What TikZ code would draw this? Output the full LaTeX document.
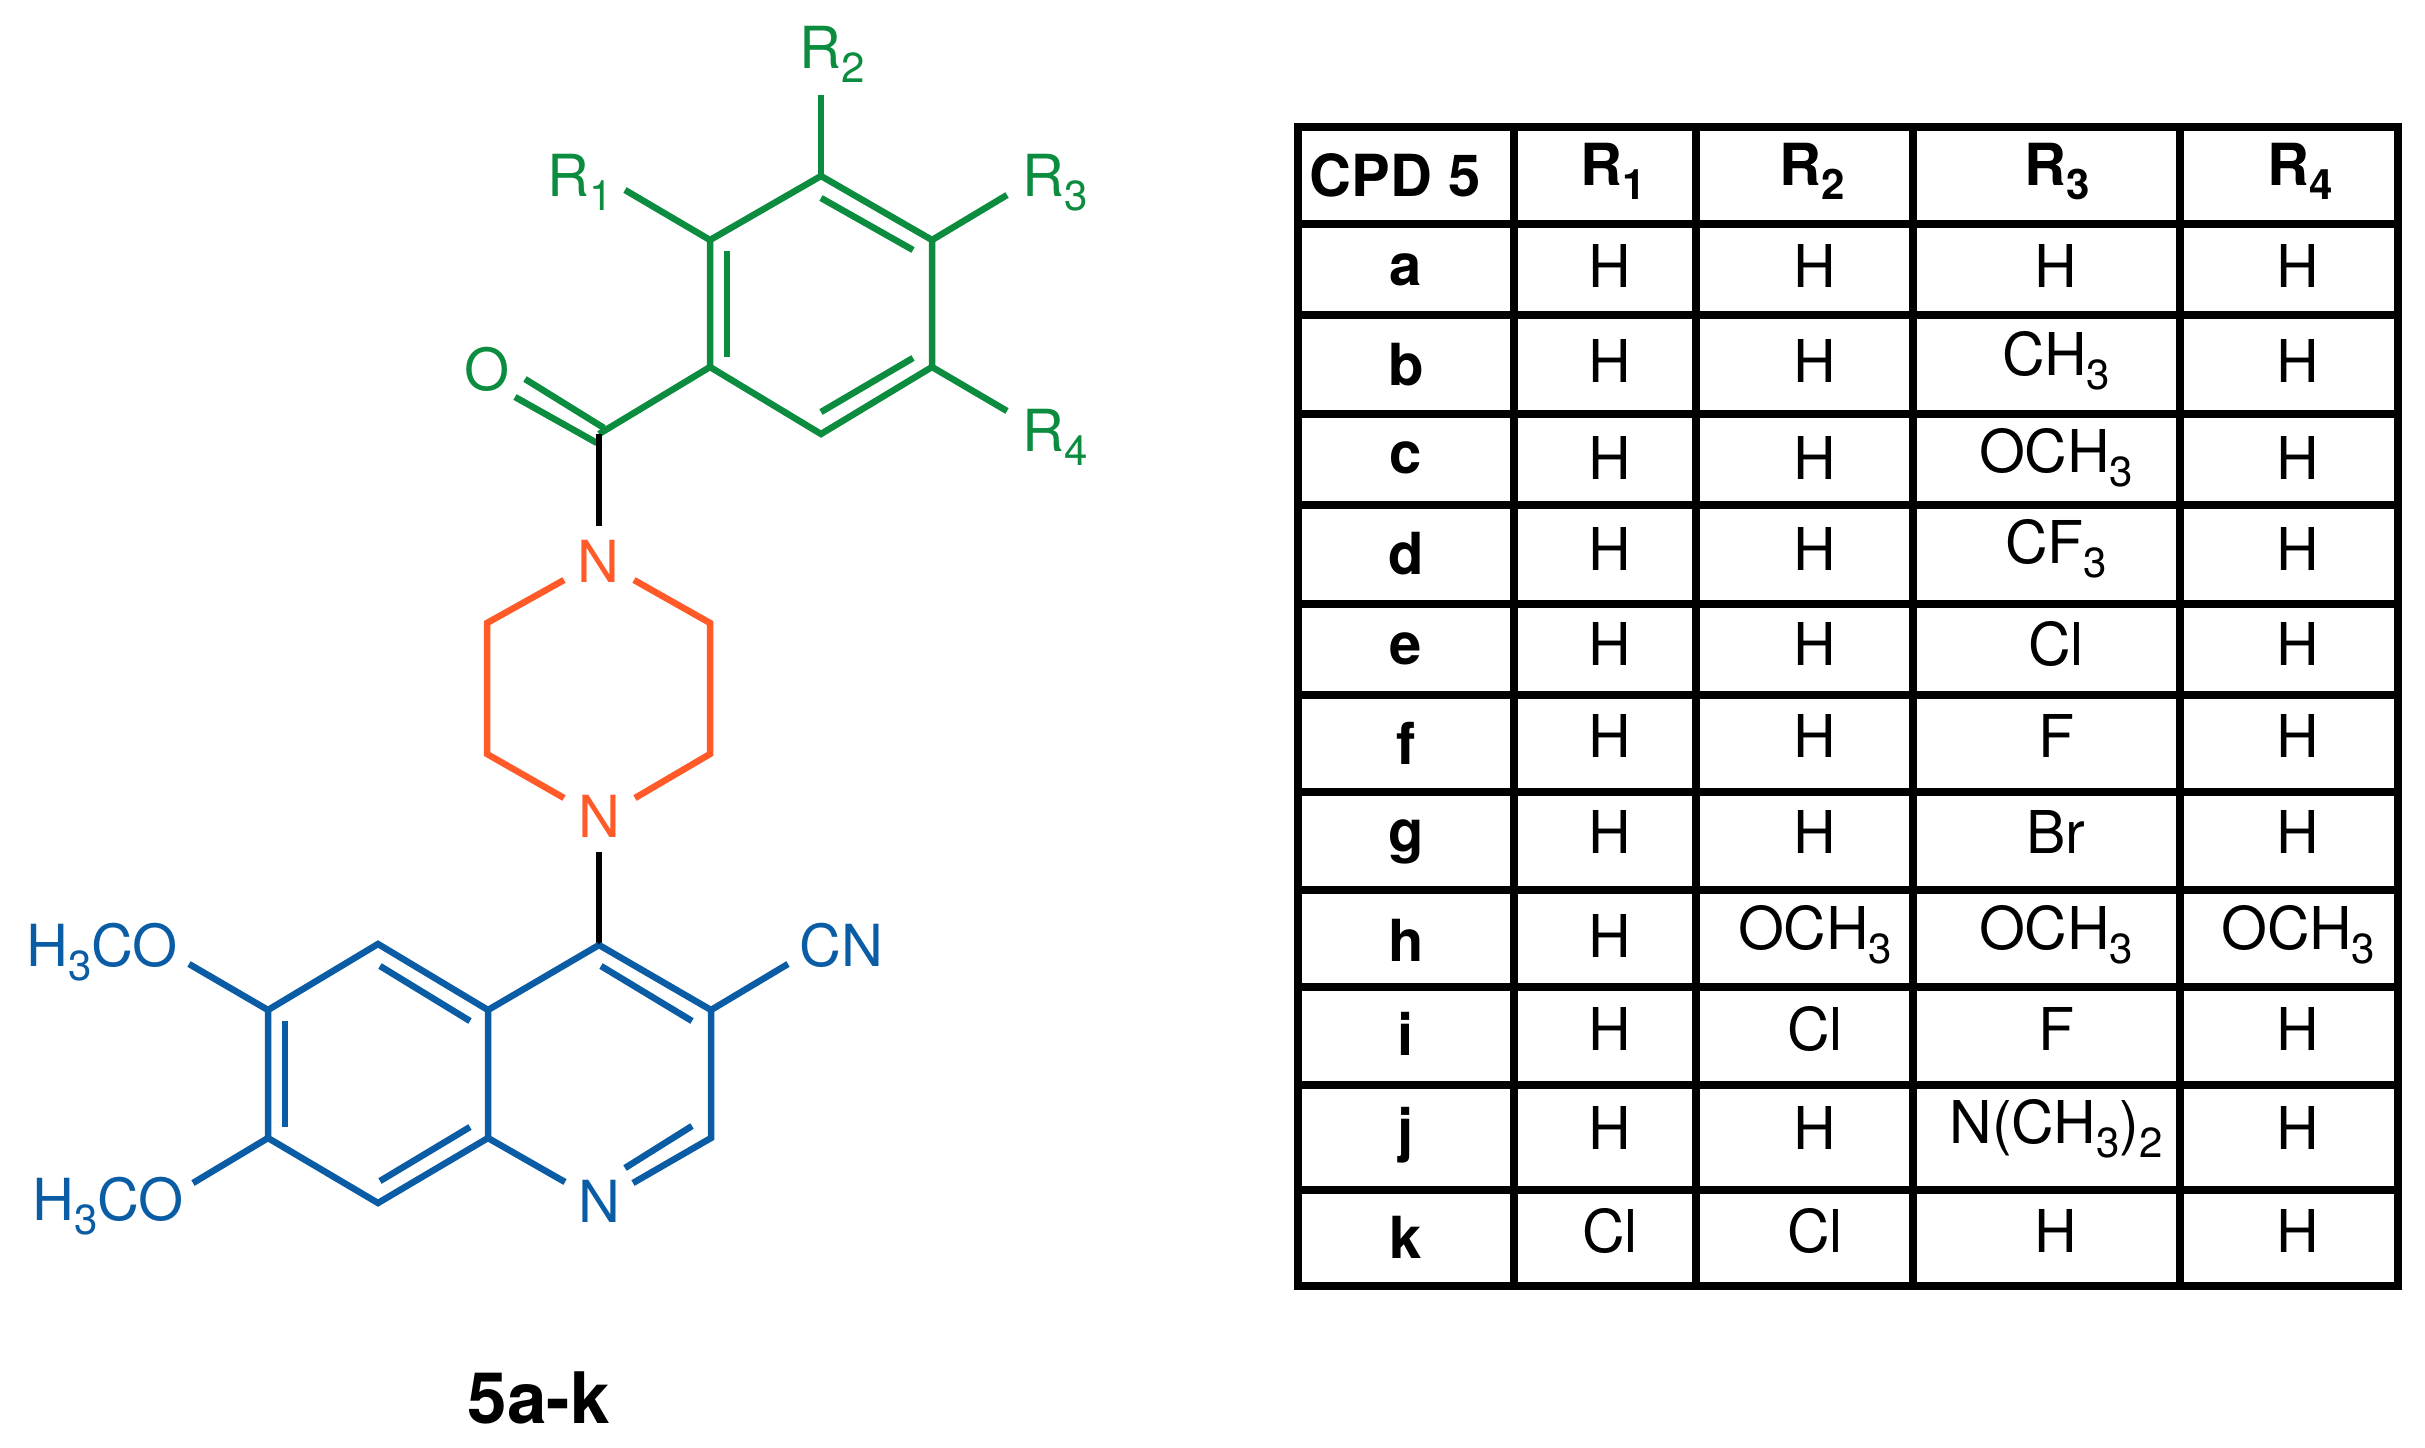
\documentclass[tikz,border=0pt]{standalone}
\usepackage{fontspec}
\setmainfont{TeX Gyre Heros}
\definecolor{ringgreen}{RGB}{12,140,62}
\definecolor{ringorange}{RGB}{255,90,40}
\definecolor{ringblue}{RGB}{10,92,165}
\newcommand{\chemsub}[1]{\raisebox{-14pt}{\fontsize{42}{42}\selectfont #1}}
\tikzset{
    atom/.style={inner sep=0pt, font=\fontsize{58}{60}\selectfont},
    cell/.style={inner sep=0pt, anchor=base, font=\fontsize{59}{60}\selectfont},
    headcell/.style={inner sep=0pt, anchor=base, font=\fontsize{58}{60}\selectfont\bfseries},
    bond/.style={line width=6.5pt, line join=miter},
    gridline/.style={line width=7.5pt},
}
\begin{document}
\begin{tikzpicture}[x=1pt, y=-1pt]
    \useasboundingbox (0,0) rectangle (2425,1448);
    % benzoyl ring
    \coordinate (g1) at (821,176);
    \coordinate (g2) at (932,240);
    \coordinate (g3) at (932,367);
    \coordinate (g4) at (821,434);
    \coordinate (g5) at (710,367);
    \coordinate (g6) at (710,240);
    \coordinate (co) at (599,434);
    \node[atom, ringgreen, anchor=base west] (r1) at (547,196) {R\chemsub{1}};
    \node[atom, ringgreen, anchor=base west] (r2) at (799,68) {R\chemsub{2}};
    \node[atom, ringgreen, anchor=base west] (r3) at (1022,196) {R\chemsub{3}};
    \node[atom, ringgreen, anchor=base west] (r4) at (1022,451) {R\chemsub{4}};
    \node[atom, ringgreen, anchor=base] (oxy) at (487,390) {O};
    \coordinate (r1end) at (625,190);
    \coordinate (r2end) at (821,95);
    \coordinate (r3end) at (1007,195);
    \coordinate (r4end) at (1007,411);
    \draw[bond, ringgreen] (g1)--(g2)--(g3)--(g4)--(g5)--(g6)--cycle;
    \draw[bond, ringgreen] (g5)--(co);
    \draw[bond, ringgreen] (g6)--(r1end);
    \draw[bond, ringgreen] (g1)--(r2end);
    \draw[bond, ringgreen] (g2)--(r3end);
    \draw[bond, ringgreen] (g3)--(r4end);
    % inner lines of the double bonds
    \foreach \a/\b/\c/\d in {821/198/913/250, 727/251/727/357, 913/358/821/412, 525/379/604/428, 515/397/597/443}{
        \coordinate (p) at (\a,\b);
        \coordinate (q) at (\c,\d);
        \draw[bond, ringgreen] (p)--(q);
    }
    % piperazine
    \node[atom, ringorange, anchor=base] (ntop) at (598,582) {N};
    \node[atom, ringorange, anchor=base] (nbot) at (599,837) {N};
    \coordinate (o1) at (487,623);
    \coordinate (o2) at (487,754);
    \coordinate (o3) at (710,623);
    \coordinate (o4) at (710,754);
    \coordinate (n1a) at (564,580);
    \coordinate (n1b) at (634,580);
    \coordinate (n2a) at (564,798);
    \coordinate (n2b) at (635,798);
    \draw[bond, ringorange] (n1a)--(o1)--(o2)--(n2a);
    \draw[bond, ringorange] (n1b)--(o3)--(o4)--(n2b);
    % linkers
    \coordinate (ntopend) at (599,526);
    \coordinate (nbotend) at (599,852);
    \coordinate (b1) at (599,945);
    \draw[bond, black] (co)--(ntopend);
    \draw[bond, black] (nbotend)--(b1);
    % quinoline
    \coordinate (b2) at (711,1010);
    \coordinate (b3) at (711,1138);
    \coordinate (b4) at (488,1010);
    \coordinate (b5) at (488,1138);
    \coordinate (b6) at (378,944);
    \coordinate (b7) at (268,1010);
    \coordinate (b8) at (268,1138);
    \coordinate (b9) at (378,1203);
    \coordinate (nqa) at (565,1182);
    \coordinate (nqb) at (633,1183);
    \node[atom, ringblue, anchor=base] (nq) at (599,1222) {N};
    \node[atom, ringblue, anchor=base west] (ome1) at (26,966) {H\chemsub{3}CO};
    \node[atom, ringblue, anchor=base west] (ome2) at (32,1220) {H\chemsub{3}CO};
    \node[atom, ringblue, anchor=base west] (cn) at (799,966) {CN};
    \coordinate (ome1end) at (189,964);
    \coordinate (ome2end) at (193,1183);
    \coordinate (cnend) at (788,964);
    \draw[bond, ringblue] (b1)--(b2)--(b3)--(nqb);
    \draw[bond, ringblue] (b1)--(b4)--(b6)--(b7)--(b8)--(b9)--(b5)--(b4);
    \draw[bond, ringblue] (b5)--(nqa);
    \draw[bond, ringblue] (b7)--(ome1end);
    \draw[bond, ringblue] (b8)--(ome2end);
    \draw[bond, ringblue] (b2)--(cnend);
    \foreach \a/\b/\c/\d in {380/966/470/1021, 285/1021/285/1127, 380/1181/470/1127, 601/966/692/1021, 625/1168/692/1126}{
        \coordinate (p) at (\a,\b);
        \coordinate (q) at (\c,\d);
        \draw[bond, ringblue] (p)--(q);
    }
    \node[inner sep=0pt, anchor=base, font=\fontsize{71}{72}\selectfont\bfseries] (title) at (539,1423) {5a-k};
    % table lines
    \draw[line width=8.5pt] (1298,127) rectangle (2398,1286);
    \foreach \x in {1514,1696,1913,2180}{
        \draw[gridline] (\x,127)--(\x,1286);
    }
    \foreach \y in {224,315,414,505,604,695,792,890,987,1085,1190}{
        \draw[gridline] (1298,\y)--(2398,\y);
    }
    % header
    \node[headcell] (cpd) at (1395,196) {CPD 5};
    \foreach \i/\x in {1/1613,2/1812,3/2057,4/2300}{
        \node[headcell] (h\i) at (\x,185) {R\chemsub{\i}};
    }
    % the rows: name, baseline of the letter, of the H columns, of R3, then the four cells
    \foreach \row/\yl/\yh/\yr/\cI/\cII/\cIII/\cIV in {
        a/285/287/287/H/H/H/H,
        b/385/382/375/H/H/{CH\chemsub{3}}/H,
        c/473/479/472/H/H/{OCH\chemsub{3}}/H,
        d/574/570/563/H/H/{CF\chemsub{3}}/H,
        e/664/665/665/H/H/Cl/H,
        f/764/757/757/H/H/F/H,
        g/851/853/853/H/H/Br/H,
        h/961/957/949/H/{\raisebox{8pt}{OCH\chemsub{3}}}/{OCH\chemsub{3}}/{\raisebox{8pt}{OCH\chemsub{3}}},
        i/1055/1050/1050/H/Cl/F/H,
        j/1150/1149/1143/H/H/{N(CH\chemsub{3})\chemsub{2}}/H,
        k/1258/1252/1252/Cl/Cl/H/H%
    }{
        \node[headcell] (\row0) at (1406,\yl) {\row};
        \node[cell] (\row1) at (1610,\yh) {\cI};
        \node[cell] (\row2) at (1815,\yh) {\cII};
        \node[cell] (\row3) at (2056,\yr) {\cIII};
        \node[cell] (\row4) at (2298,\yh) {\cIV};
    }
\end{tikzpicture}
\end{document}
